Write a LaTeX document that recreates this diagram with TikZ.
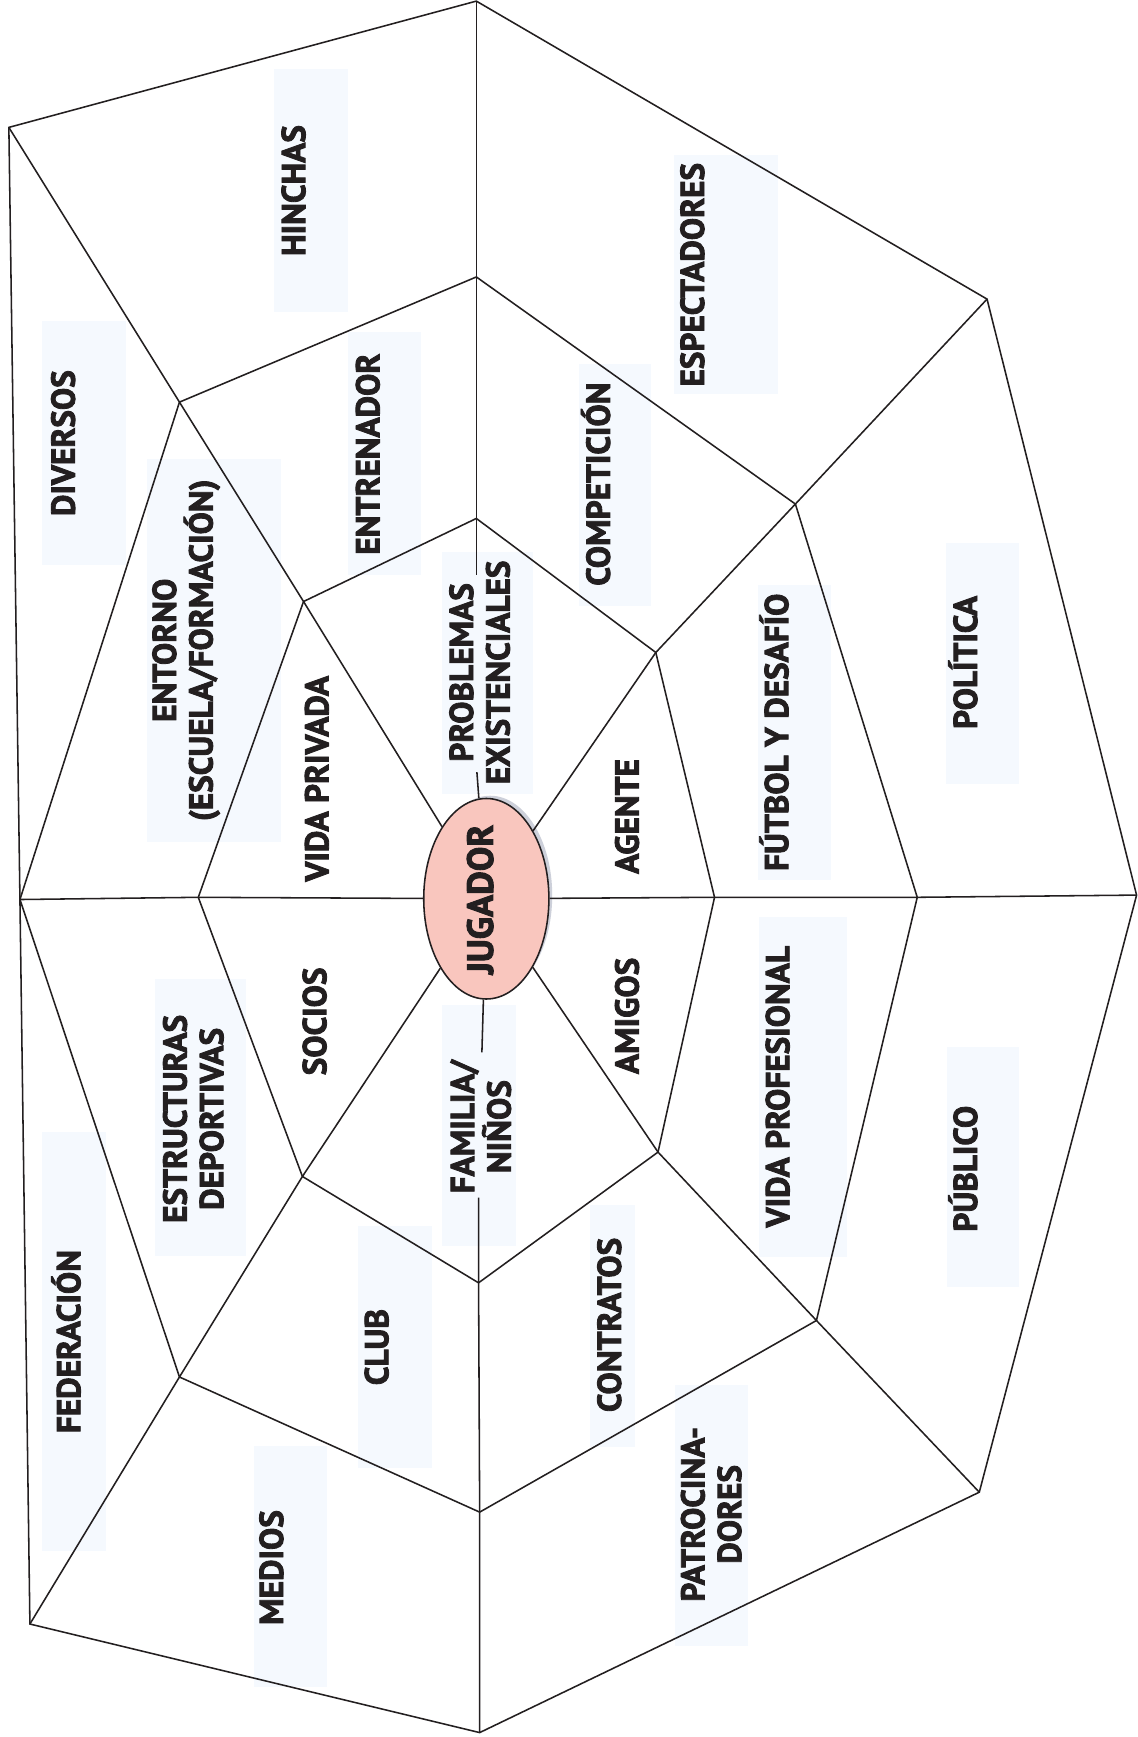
\documentclass[tikz,border=0pt]{standalone}
\usepackage{fontspec}
\setmainfont{PT Sans}[BoldFeatures={FakeBold=2.5}]
\usetikzlibrary{shapes.geometric}
\definecolor{boxbg}{RGB}{245,249,254}
\definecolor{ink}{RGB}{35,31,32}
\definecolor{pinkfill}{RGB}{249,198,190}
\definecolor{shadowc}{RGB}{205,208,218}
\begin{document}
\begin{tikzpicture}[x=1pt,y=-1pt,
  web/.style={draw=ink,line width=1.4pt,line join=miter},
  bg/.style={fill=boxbg},
  lbl/.style={rotate=90,font=\fontsize{30}{33}\selectfont\bfseries,text=ink,inner sep=0pt,text height=21pt,text depth=0pt},
  lbltwo/.style={rotate=90,font=\fontsize{30}{33}\selectfont\bfseries,text=ink,inner sep=0pt,align=center},
]
\useasboundingbox (0,0) rectangle (1027,1568);
\fill[white] (0,0) rectangle (1027,1568);

% label backgrounds
\fill[bg] (247,62) rectangle (314,282);
\fill[bg] (38,290) rectangle (114,510);
\fill[bg] (608,140) rectangle (702,356);
\fill[bg] (314,300) rectangle (380,519);
\fill[bg] (523,329) rectangle (588,547);
\fill[bg] (133,414) rectangle (254,760);
\fill[bg] (399,498) rectangle (481,717);
\fill[bg] (684,528) rectangle (750,794);
\fill[bg] (854,490) rectangle (920,708);
\fill[bg] (685,828) rectangle (765,1135);
\fill[bg] (855,945) rectangle (920,1162);
\fill[bg] (140,884) rectangle (222,1134);
\fill[bg] (399,907) rectangle (466,1125);
\fill[bg] (38,1022) rectangle (96,1400);
\fill[bg] (323,1107) rectangle (390,1325);
\fill[bg] (533,1088) rectangle (573,1306);
\fill[bg] (229,1305) rectangle (295,1523);
\fill[bg] (609,1250) rectangle (675,1486);

% vertices
\coordinate (O1) at (430,1);
\coordinate (O2) at (891,270);
\coordinate (O3) at (1026,808);
\coordinate (O4) at (884,1347);
\coordinate (O5) at (433,1564);
\coordinate (O6) at (27,1466);
\coordinate (O7) at (18,812);
\coordinate (O8) at (8,115);
\coordinate (M1) at (430,250);
\coordinate (M2) at (718,455);
\coordinate (M3) at (828,810);
\coordinate (M4) at (737,1192);
\coordinate (M5) at (433,1365);
\coordinate (M6) at (162,1243);
\coordinate (M8) at (162,363);
\coordinate (I1) at (430,468);
\coordinate (I2) at (592,589);
\coordinate (I3) at (645,810);
\coordinate (I4) at (594,1040);
\coordinate (I5) at (432,1158);
\coordinate (I6) at (273,1062);
\coordinate (I7) at (179,810);
\coordinate (I8) at (274,543);
\coordinate (Tgap) at (430,519);
\coordinate (Tstub) at (430.5,697);
\coordinate (Bgap) at (432,1081);
\coordinate (Bstub) at (435,950);

% central ellipse
\coordinate (jc) at (439,811.3);
\fill[shadowc] ([shift={(3.5,-3)}]jc) ellipse [x radius=56pt, y radius=90pt];
\node[ellipse,draw=ink,line width=1.4pt,fill=pinkfill,minimum width=113pt,minimum height=181pt,inner sep=0pt] (jug) at (jc) {};

% rings
\draw[web] (O1) -- (O2) -- (O3) -- (O4) -- (O5) -- (O6) -- (O7) -- (O8) -- cycle;
\draw[web] (M1) -- (M2) -- (M3) -- (M4) -- (M5) -- (M6) -- (O7) -- (M8) -- cycle;
\draw[web] (I1) -- (I2) -- (I3) -- (I4) -- (I5) -- (I6) -- (I7) -- (I8) -- cycle;

% radial lines
\draw[web] (O1) -- (M1) -- (I1) -- (Tgap);
\draw[web] (Tstub) -- (jug);
\draw[web] (O2) -- (M2) -- (I2) -- (jug);
\draw[web] (O3) -- (M3) -- (I3) -- (jug);
\draw[web] (O4) -- (M4) -- (I4) -- (jug);
\draw[web] (O5) -- (M5) -- (I5) -- (Bgap);
\draw[web] (Bstub) -- (jug);
\draw[web] (O6) -- (M6) -- (I6) -- (jug);
\draw[web] (O7) -- (I7) -- (jug);
\draw[web] (O8) -- (M8) -- (I8) -- (jug);

% labels
\node[lbl,font=\fontsize{33}{36}\selectfont\bfseries,text height=23pt] (tjug) at (433.5,812) {JUGADOR};
\node[lbl] (hinchas) at (265,172) {HINCHAS};
\node[lbl] (diversos) at (57,400) {DIVERSOS};
\node[lbl] (espect) at (625,248) {ESPECTADORES};
\node[lbl] (entren) at (332,410) {ENTRENADOR};
\node[lbl] (compet) at (540,437) {COMPETICIÓN};
\node[lbltwo] (entorno) at (168,587) {ENTORNO\\(ESCUELA/FORMACIÓN)};
\node[lbltwo] (problemas) at (433,607) {PROBLEMAS\\EXISTENCIALES};
\node[lbl] (vidapriv) at (286,703) {VIDA PRIVADA};
\node[lbl] (agente) at (566,737) {AGENTE};
\node[lbl] (futbol) at (701,661) {FÚTBOL Y DESAFÍO};
\node[lbl] (politica) at (871.5,598) {POLÍTICA};
\node[lbl] (socios) at (284,922) {SOCIOS};
\node[lbl] (amigos) at (566,917) {AMIGOS};
\node[lbl] (vidaprof) at (702,981) {VIDA PROFESIONAL};
\node[lbl] (publico) at (871.5,1055) {PÚBLICO};
\node[lbltwo] (estruct) at (174.5,1010) {ESTRUCTURAS\\DEPORTIVAS};
\node[lbltwo] (familia) at (434,1017) {FAMILIA/\\NIÑOS};
\node[lbl] (feder) at (62,1211) {FEDERACIÓN};
\node[lbl] (club) at (340,1216) {CLUB};
\node[lbl] (contratos) at (550,1196) {CONTRATOS};
\node[lbl] (medios) at (245,1415) {MEDIOS};
\node[lbltwo] (patro) at (642,1367) {PATROCINA-\\DORES};
\end{tikzpicture}
\end{document}
